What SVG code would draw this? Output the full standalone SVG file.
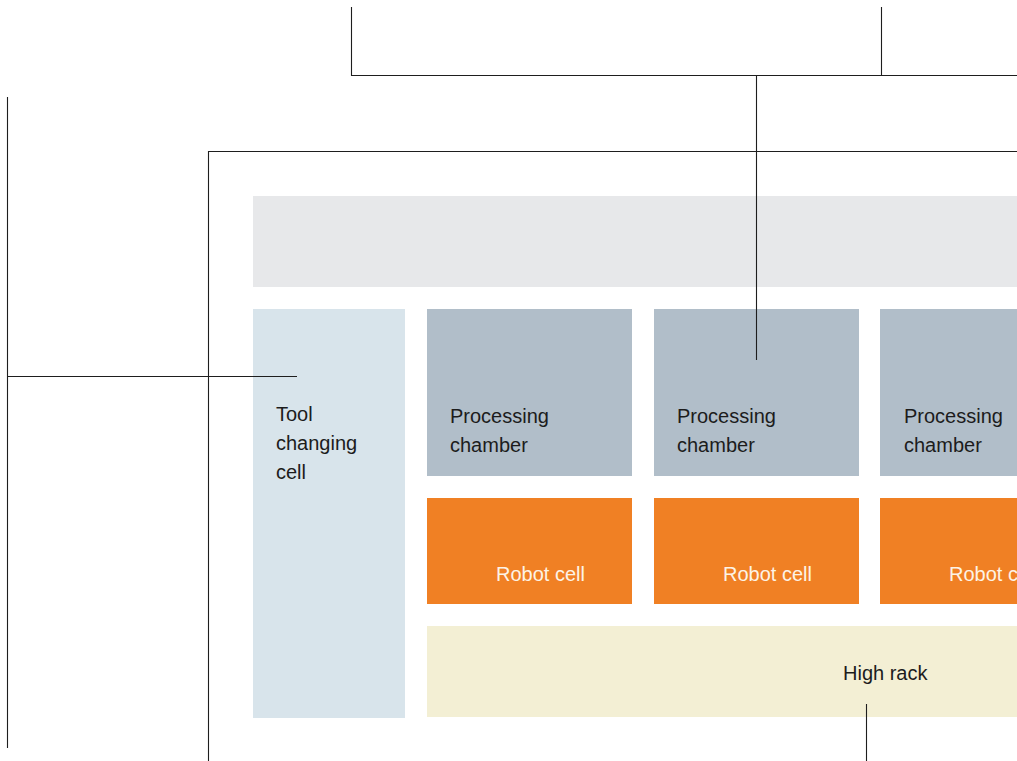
<svg xmlns="http://www.w3.org/2000/svg" width="1017" height="761" viewBox="0 0 1017 761">
<style>
.ln{stroke:#1e1e1e;stroke-width:1.1;fill:none}
.t{font-family:"Liberation Sans",Arial,sans-serif;font-size:20px;fill:#1c1c1c}
.tw{font-family:"Liberation Sans",Arial,sans-serif;font-size:20px;fill:#fdf3e6}
.pc{fill:#b1bec9}
.rc{fill:#f08024}
</style>
<rect width="1017" height="761" fill="#ffffff"/>
<g id="top-bar"><rect x="253" y="196" width="764" height="91" fill="#e7e8ea"/></g>
<g id="tool-changing-cell"><rect x="253" y="309" width="152" height="409" fill="#d8e4eb"/>
<text class="t" x="276" y="421">Tool</text><text class="t" x="276" y="450">changing</text><text class="t" x="276" y="479">cell</text></g>
<g id="pc1"><rect class="pc" x="427" y="309" width="205" height="167"/><text class="t" x="450" y="423">Processing</text><text class="t" x="450" y="452">chamber</text></g>
<g id="pc2"><rect class="pc" x="654" y="309" width="205" height="167"/><text class="t" x="677" y="423">Processing</text><text class="t" x="677" y="452">chamber</text></g>
<g id="pc3"><rect class="pc" x="880" y="309" width="205" height="167"/><text class="t" x="904" y="423">Processing</text><text class="t" x="904" y="452">chamber</text></g>
<g id="rc1"><rect class="rc" x="427" y="498" width="205" height="106"/><text class="tw" x="496" y="581">Robot cell</text></g>
<g id="rc2"><rect class="rc" x="654" y="498" width="205" height="106"/><text class="tw" x="723" y="581">Robot cell</text></g>
<g id="rc3"><rect class="rc" x="880" y="498" width="205" height="106"/><text class="tw" x="949" y="581">Robot cell</text></g>
<g id="high-rack"><rect x="427" y="626" width="590" height="91" fill="#f3efd4"/><text class="t" x="843" y="680">High rack</text></g>
<g id="connectors">
<path class="ln" d="M351.5 7V75.5H1017M881.5 7V75.5M756.5 75.5V360"/>
<path class="ln" d="M208.5 761V151.5H1017"/>
<path class="ln" d="M7.5 97V748M7.5 376.5H297"/>
<path class="ln" d="M866.5 704V761"/>
</g>
</svg>
